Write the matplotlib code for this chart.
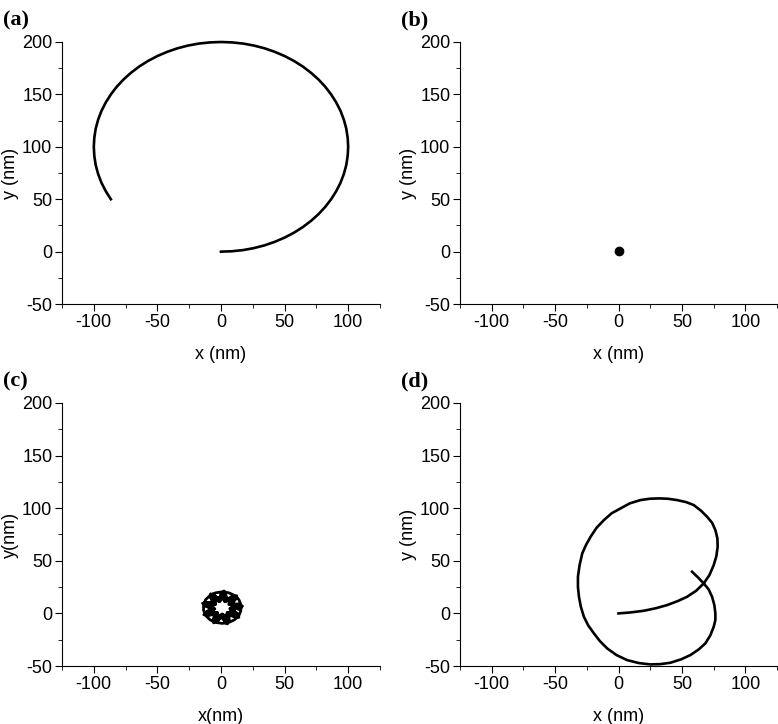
import matplotlib
matplotlib.use("Agg")
import matplotlib.pyplot as plt
from matplotlib.ticker import MultipleLocator

plt.rcParams.update({
    'font.family': ['Liberation Sans', 'DejaVu Sans'],
    'font.size': 13,
    'axes.unicode_minus': False,
    'xtick.direction': 'out',
    'ytick.direction': 'out',
    'xtick.major.size': 5,
    'ytick.major.size': 5,
    'xtick.minor.size': 3,
    'ytick.minor.size': 3,
    'axes.linewidth': 0.8,
})

# (a) open arc
xa = [0, 8.7, 17.4, 25.9, 34.2, 42.3, 50, 57.4, 64.3, 70.7, 76.6, 81.9, 86.6, 90.6, 94, 96.6, 98.5, 99.6,
      100, 99.6, 98.5, 96.6, 94, 90.6, 86.6, 81.9, 76.6, 70.7, 64.3, 57.4, 50, 42.3, 34.2, 25.9, 17.4, 8.7,
      0, -8.7, -17.4, -25.9, -34.2, -42.3, -50, -57.4, -64.3, -70.7, -76.6, -81.9, -86.6, -90.6, -94, -96.6,
      -98.5, -99.6, -100, -99.6, -98.5, -96.6, -94, -90.6, -86.6]
ya = [0, 0.4, 1.5, 3.4, 6, 9.4, 13.4, 18.1, 23.4, 29.3, 35.7, 42.6, 50, 57.7, 65.8, 74.1, 82.6, 91.3,
      100, 108.7, 117.4, 125.9, 134.2, 142.3, 150, 157.4, 164.3, 170.7, 176.6, 181.9, 186.6, 190.6, 194, 196.6, 198.5, 199.6,
      200, 199.6, 198.5, 196.6, 194, 190.6, 186.6, 181.9, 176.6, 170.7, 164.3, 157.4, 150, 142.3, 134.2, 125.9,
      117.4, 108.7, 100, 91.3, 82.6, 74.1, 65.8, 57.7, 50]

# (b) single point
xb = [0]
yb = [1]

# (c) small rosette around the origin
xc = [16, 7.6, 12.6, 4.5, 3.6, -0.2, -6.5, -4.4, -13.1, -6, -13.1, -4.4, -6.5, -0.2, 3.6, 4.5, 12.6, 7.6,
      14.7, 6.2, 10, 3, 1, -1, -8, -4.2, -12.7, -4.9, -11.2, -2.8, -3.8, 1, 5.8, 4.8, 13.2, 6.9,
      16.9, 8.2, 12.3, 4.4, 2.4, -1.1, -8.2, -5.6, -14.5, -7, -13.5, -4.7, -5.8, 0.3, 5.1, 5.6, 14.1, 8.7,
      13.6, 6.3, 8.5, 2.7, -0.1, -1.7, -8.2, -4.9, -11.9, -5.3, -9.6, -2.7, -2.4, 1.6, 6.5, 5.6, 12.8, 7.5,
      15.7, 14.1, 10.6, 6.1, 1, -4.1, -8.6, -12.1, -13.7, -13.7, -12.1, -8.6, -4.1, 1, 6.1, 10.6, 14.1, 15.7,
      11, 10.4, 8.7, 6, 2.7, -0.7, -4, -6.7, -8.4, -9, -8.4, -6.7, -4, -0.7, 2.7, 6, 8.7, 10.4, 11]
yc = [5.5, 7.9, 15.1, 11.6, 20.2, 12.4, 18.5, 10, 10.6, 5.5, 0.4, 1, -7.5, -1.4, -9.2, -0.6, -4.1, 3.1,
      7.9, 8.5, 16.3, 11.1, 19.5, 11.1, 16.3, 8.5, 7.9, 4.5, -1.5, 0.9, -7.7, -0.5, -7.7, 0.9, -1.5, 4.5,
      6.9, 8.9, 16.8, 12.7, 21.4, 13.2, 18.6, 10.1, 9.6, 4.8, -1.3, -0.2, -9, -2.5, -10, -1, -3.7, 3.4,
      8.9, 9.2, 16.1, 11.8, 18.4, 11.4, 14.7, 8.2, 6.6, 3.8, -2, 0.2, -7.1, -1, -6.3, 0.9, 0, 4.9,
      8.1, 13, 17.1, 19.6, 20.5, 19.6, 17.1, 13, 8.1, 2.9, -2, -6.1, -8.6, -9.5, -8.6, -6.1, -2, 2.9,
      5.5, 8.9, 11.9, 14.2, 15.3, 15.3, 14.2, 11.9, 8.9, 5.5, 2.1, -0.9, -3.2, -4.3, -4.3, -3.2, -0.9, 2.1, 5.5]

# (d) looping path
xd = [0, 9.4, 19.9, 29.1, 38.3, 46.7, 54.1, 61.2, 67.2, 71.7, 75.1, 77.2, 78.2, 78, 76.4, 73.8, 69.8,
      65.1, 59.3, 53.3, 46.2, 38.8, 31.8, 24.7, 17.3, 8.9, 1.6, -5.5, -11.5, -17.3, -22, -25.7, -28.6,
      -30.7, -32, -32, -31.2, -29.7, -27.3, -23.9, -19.4, -14.7, -8.9, -1.6, 6.8, 16, 25.2, 33.1, 40.9,
      49.3, 56.7, 63.3, 68.5, 72.4, 75.1, 76.4, 76.4, 75.6, 73.8, 71.1, 67.2, 62.7, 58]
yd = [0, 0.9, 2.5, 4.8, 7.9, 11.7, 15.8, 21.5, 28.5, 36.4, 45.9, 54.5, 63.3, 71.3, 79.2, 86.2, 91.9,
      97.6, 103, 105.8, 107.7, 109, 109.3, 109, 107.7, 104.6, 99.8, 95.1, 88.7, 81.4, 72.9, 64.9, 57,
      45.9, 34.8, 25.3, 15.8, 6.3, -3.2, -11.4, -19, -26.3, -33.3, -39.6, -44.4, -47.2, -48.5, -48.2, -46.9,
      -43.7, -39.6, -34.2, -28.5, -20.9, -12.7, -6.3, 0, 7.9, 15.8, 22.8, 28.5, 34.2, 39.6]

fig = plt.figure(figsize=(7.78, 7.24), dpi=100)
boxes = [
    [0.0797, 0.580, 0.4087, 0.362],
    [0.5913, 0.580, 0.4074, 0.362],
    [0.0797, 0.0801, 0.4087, 0.3633],
    [0.5913, 0.0801, 0.4074, 0.3633],
]
xlabels = ['x (nm)', 'x (nm)', 'x(nm)', 'x (nm)']
ylabels = ['y (nm)', 'y (nm)', 'y(nm)', 'y (nm)']
tags = ['(a)', '(b)', '(c)', '(d)']

axes = []
for i, box in enumerate(boxes):
    ax = fig.add_axes(box)
    ax.set_xlim(-125, 125)
    ax.set_ylim(-50, 200)
    ax.xaxis.set_major_locator(MultipleLocator(50))
    ax.xaxis.set_minor_locator(MultipleLocator(25))
    ax.yaxis.set_major_locator(MultipleLocator(50))
    ax.yaxis.set_minor_locator(MultipleLocator(25))
    ax.spines['top'].set_visible(False)
    ax.spines['right'].set_visible(False)
    ax.set_xlabel(xlabels[i], labelpad=11)
    ax.set_ylabel(ylabels[i], labelpad=2)
    ax.tick_params(labelsize=13, pad=2)
    ax.text(-0.185, 1.045, tags[i], transform=ax.transAxes, fontsize=16,
            fontweight='bold', family='Liberation Serif', va='bottom', ha='left')
    axes.append(ax)

axes[0].plot(xa, ya, color='k', lw=1.9, clip_on=False)
axes[1].plot(xb, yb, 'o', color='k', ms=6)
axes[2].plot(xc, yc, color='k', lw=2.0)
axes[3].plot(xd, yd, color='k', lw=1.9, clip_on=False)

fig.savefig('out.png', dpi=100)
